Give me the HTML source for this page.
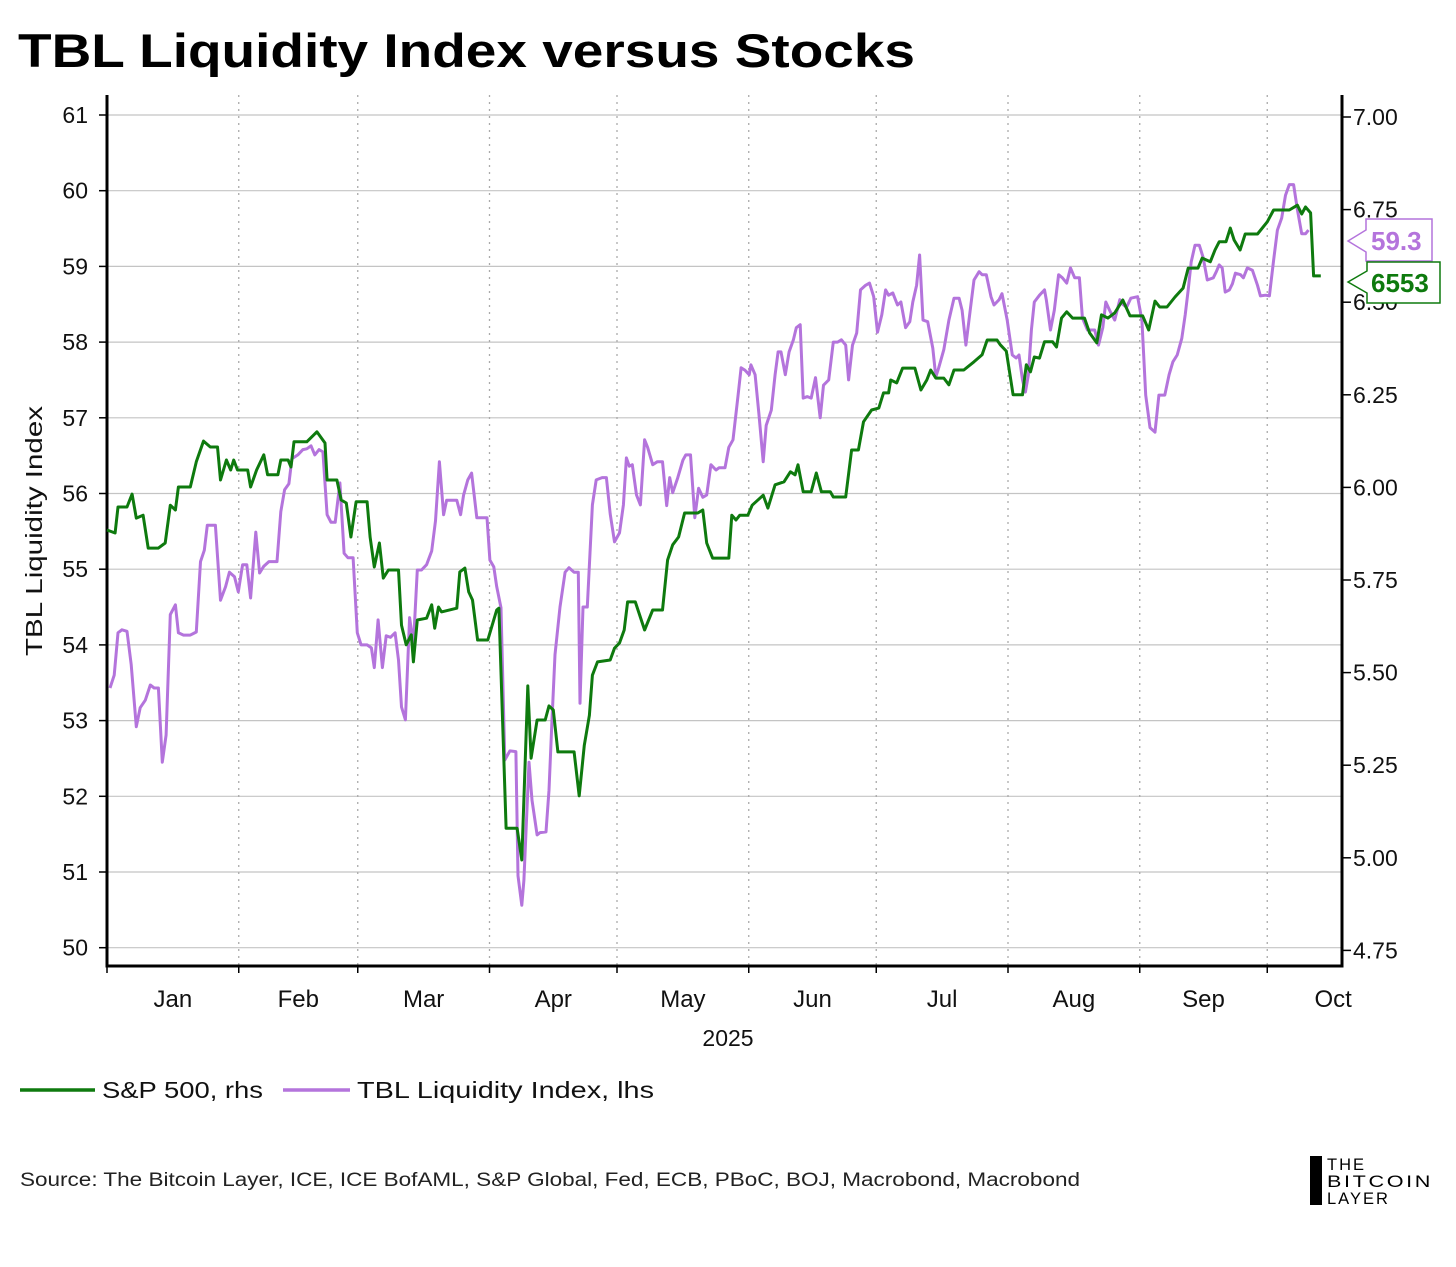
<!DOCTYPE html>
<html><head><meta charset="utf-8">
<style>
body{margin:0;background:#fff;width:1456px;height:1262px;overflow:hidden;font-family:"Liberation Sans",sans-serif;}
svg text{font-family:"Liberation Sans",sans-serif;}
</style></head>
<body>
<svg id="chart" width="1456" height="1262" xmlns="http://www.w3.org/2000/svg">
<text x="18" y="67" font-size="47" font-weight="bold" fill="#000" textLength="897" lengthAdjust="spacingAndGlyphs">TBL Liquidity Index versus Stocks</text>
<g id="grid"></g>
<g id="axes"></g>
<g id="series"></g>
<text transform="translate(42,531) rotate(-90)" text-anchor="middle" font-size="23" fill="#111" textLength="250" lengthAdjust="spacingAndGlyphs">TBL Liquidity Index</text>
<text x="728" y="1046" text-anchor="middle" font-size="23" fill="#111">2025</text>
<g>
<line x1="20" y1="1090" x2="95" y2="1090" stroke="#0e7a0e" stroke-width="3.5"/>
<text x="102" y="1098" font-size="23" fill="#111" textLength="161" lengthAdjust="spacingAndGlyphs">S&amp;P 500, rhs</text>
<line x1="283" y1="1090" x2="350" y2="1090" stroke="#b474dc" stroke-width="3.5"/>
<text x="357" y="1098" font-size="23" fill="#111" textLength="297" lengthAdjust="spacingAndGlyphs">TBL Liquidity Index, lhs</text>
</g>
<text x="20" y="1186" font-size="19" fill="#222" textLength="1060" lengthAdjust="spacingAndGlyphs">Source: The Bitcoin Layer, ICE, ICE BofAML, S&amp;P Global, Fed, ECB, PBoC, BOJ, Macrobond, Macrobond</text>
<g>
<rect x="1310" y="1156" width="12" height="49" fill="#000"/>
<text x="1327" y="1170" font-size="16.5" letter-spacing="2" fill="#000">THE</text>
<text x="1327" y="1187" font-size="16.5" letter-spacing="2" fill="#000" textLength="106" lengthAdjust="spacingAndGlyphs">BITCOIN</text>
<text x="1327" y="1204" font-size="16.5" letter-spacing="2" fill="#000">LAYER</text>
</g>
<g>
<path d="M1348,241 L1366,230 L1366,219 L1432,219 L1432,261 L1366,261 L1366,252 Z" fill="#fff" stroke="#b474dc" stroke-width="1.5"/>
<text x="1371" y="250" font-size="26" font-weight="bold" fill="#b474dc">59.3</text>
</g>
<g>
<path d="M1348,282 L1367,271 L1367,262 L1440,262 L1440,303 L1367,303 L1367,293 Z" fill="#fff" stroke="#0e7a0e" stroke-width="1.5"/>
<text x="1371" y="292" font-size="26" font-weight="bold" fill="#0e7a0e">6553</text>
</g>
</svg>
<script>
const leftTicks=[50,51,52,53,54,55,56,57,58,59,60,61];
const rightTicks=[4750,5000,5250,5500,5750,6000,6250,6500,6750,7000];
const rightTickLabels=["4.75","5.00","5.25","5.50","5.75","6.00","6.25","6.50","6.75","7.00"];
const monthStarts=[0,31,59,90,120,151,181,212,243,273];
const monthNames=["Jan","Feb","Mar","Apr","May","Jun","Jul","Aug","Sep","Oct"];
const spDays=[0,1.9,2.6,4.7,5.9,6.9,8.5,9.7,12.1,13.7,14.9,16.1,16.8,19.6,21,22.7,24.3,26,26.7,28.1,29.1,29.8,30.7,33.1,33.8,35.2,36.9,37.8,40.2,40.9,42.6,43.3,44,47,49.4,51.3,51.8,54.1,55.1,56.3,57.4,58.6,61.2,61.9,62.9,64.1,65,66.2,68.6,69.3,70.4,71.6,72.1,73,75.2,76.4,77.1,78,78.7,82.3,83,84.2,85.1,86,87.2,89.6,91.7,92.2,93.9,96.5,97.6,99,99.8,101.2,103.1,104,105,106.1,109.9,111.1,112.3,113.5,114.2,115.4,118.4,119.4,120.6,121.7,122.5,124.3,126.5,128.4,130.7,131.9,133.1,134.5,135.9,139,140.2,141.1,142.5,143.3,144.9,146.3,147,148,148.9,150.8,151.8,154.4,155.5,157.2,159.3,160.8,161.9,162.6,163.8,165.7,166.9,168.1,170.2,170.9,173.8,175.2,176.8,178,179.9,181.6,182.7,183.9,184.4,185.8,187.2,190.1,191.5,192.9,193.8,195,196.9,198.1,199.3,201.6,204,205.9,207.1,209.4,210.2,211.6,213.2,215.4,216.3,217.3,218.2,219.4,220.6,222.5,223.4,224.6,225.8,227.2,230,231.2,232.9,234,235.5,237.1,239,240.7,243.7,245.1,246.6,247.7,249.4,251.3,253.2,254.4,256.7,257.7,259.6,260.7,261.7,263.3,264.3,265.2,266.6,267.8,270.7,273,274.5,278.2,280.1,281.1,282,283.2,283.9,285.6];
const spValues=[5885,5877,5947,5947,5982,5917,5925,5836,5836,5850,5952,5939,6001,6001,6069,6125,6109,6109,6020,6074,6047,6074,6047,6047,6001,6047,6088,6034,6034,6074,6074,6055,6123,6123,6150,6120,6020,6020,5966,5958,5866,5961,5961,5866,5785,5850,5755,5777,5777,5628,5575,5602,5529,5642,5647,5683,5620,5677,5664,5674,5772,5782,5718,5696,5588,5588,5669,5674,5080,5080,4994,5464,5269,5372,5372,5410,5399,5286,5286,5167,5304,5385,5493,5529,5534,5566,5580,5615,5691,5691,5615,5669,5669,5804,5845,5866,5931,5931,5939,5850,5809,5809,5809,5809,5925,5912,5925,5925,5952,5979,5944,6007,6015,6042,6034,6061,5988,5988,6039,5988,5988,5974,5974,6101,6101,6177,6209,6214,6255,6255,6290,6282,6322,6322,6263,6290,6317,6295,6295,6277,6317,6317,6339,6358,6398,6398,6385,6368,6250,6250,6331,6312,6352,6349,6393,6393,6379,6457,6474,6457,6457,6417,6390,6466,6457,6471,6506,6463,6463,6425,6503,6487,6487,6514,6538,6592,6592,6619,6609,6641,6663,6663,6700,6668,6641,6684,6684,6717,6749,6749,6762,6738,6757,6741,6571,6571];
const liqDays=[0.7,1.7,2.6,3.5,4.7,5.7,6.9,7.8,9,10.2,11.1,12.1,13,13.9,14.9,16.1,16.8,18,19.6,21,22,22.9,23.6,25.5,26.7,27.9,28.8,30,30.9,31.9,32.9,33.8,35,35.9,36.9,38.1,40,40.9,41.8,42.8,43.5,44.9,46.1,47,48,48.9,49.9,50.8,51.8,52.7,53.7,54.8,55.8,56.7,57.9,58.9,59.8,61.2,62.2,62.9,63.8,64.8,65.7,66.7,67.8,68.6,69.3,70.2,71.2,72.1,73,74,75.2,76.4,77.3,78.2,79.2,79.9,81.1,82.3,83.2,83.9,84.9,85.8,87,88.2,89.4,90.1,91,91.7,92.7,93.6,94.8,96.2,96.7,97.6,98.1,99.3,100,101.2,101.9,103.3,104,104.7,105.4,106.6,107.8,108.7,109.9,110.9,111.3,112,113,114.2,115.1,116.5,117.5,118.4,119.4,120.6,121.5,122.2,122.9,123.6,124.6,125.5,126.5,127.2,128.4,129.5,130.7,131.7,132.4,133.1,134.3,135.5,136.2,137.3,138.3,139.2,140.2,141.1,142.1,143.3,144,145.4,146.3,147.3,148.5,149.2,150.1,151.1,151.5,152.5,153.4,154.4,155.1,156.3,157.2,157.9,158.6,159.6,160.5,161.5,162.2,163.1,163.8,164.8,165.7,166.7,167.8,168.6,169.8,170.9,171.9,172.8,173.8,174.5,175.4,176.4,177.3,178.5,179.4,180.4,181.3,182.3,183.2,183.9,184.9,186,186.8,187.9,188.9,189.6,190.5,191.2,192,193.1,194.3,195,195.7,196.9,198.1,199.3,200.5,201.2,202.1,203.1,204,205.2,205.9,206.9,208,208.7,209.9,210.6,211.8,213,213.9,214.6,215.4,216.1,216.8,217.5,218.2,219.4,220.6,221,222,222.9,223.9,224.8,225.8,226.7,227.7,228.8,229.5,230.7,231.4,232.4,233.3,234.3,235,235.9,237.1,238.3,239,239.9,240.9,242.5,243.5,244.4,245.4,246.6,247.5,248.9,249.9,250.8,251.8,252.9,253.7,254.4,255.1,256,257,257.9,258.9,260.3,261,261.7,262.4,263.1,264.1,264.8,265.5,266.7,267.4,268.3,269.5,270.7,271.4,272.6,273.5,274.5,275.4,276.4,277.3,278.2,279.2,280.1,281.1,282,282.7];
const liqValues=[53.43,53.60,54.16,54.20,54.18,53.74,52.92,53.17,53.27,53.47,53.43,53.43,52.45,52.81,54.40,54.53,54.16,54.13,54.13,54.17,55.10,55.25,55.58,55.58,54.59,54.77,54.96,54.90,54.70,55.06,55.06,54.62,55.49,54.95,55.04,55.10,55.10,55.76,56.05,56.13,56.46,56.51,56.58,56.59,56.63,56.51,56.58,56.55,55.72,55.62,55.62,56.14,55.21,55.15,55.15,54.16,54.00,54.00,53.96,53.70,54.33,53.70,54.12,54.10,54.16,53.80,53.18,53.01,54.36,54.00,54.99,54.99,55.06,55.24,55.64,56.42,55.72,55.91,55.91,55.91,55.72,55.98,56.18,56.27,55.68,55.68,55.68,55.12,55.03,54.77,54.49,52.48,52.60,52.59,50.95,50.56,50.89,52.45,51.95,51.49,51.52,51.53,52.08,53.01,53.87,54.50,54.96,55.02,54.96,54.96,53.23,54.50,54.50,55.85,56.18,56.21,56.21,55.73,55.36,55.48,55.85,56.47,56.36,56.38,55.98,55.85,56.71,56.61,56.38,56.42,56.42,55.84,56.21,56.01,56.21,56.44,56.51,56.51,55.68,56.07,55.95,55.98,56.38,56.31,56.34,56.34,56.61,56.71,57.30,57.66,57.63,57.57,57.70,57.57,57.04,56.42,56.90,57.10,57.57,57.87,57.87,57.57,57.87,58.03,58.19,58.23,57.26,57.28,57.26,57.53,57.00,57.43,57.50,58.00,58.00,58.03,57.96,57.50,57.96,58.12,58.69,58.75,58.78,58.60,58.13,58.36,58.69,58.62,58.65,58.49,58.53,58.19,58.27,58.53,58.75,59.15,58.29,58.27,57.92,57.54,57.66,57.90,58.29,58.58,58.58,58.42,57.96,58.42,58.82,58.93,58.89,58.89,58.60,58.49,58.56,58.64,58.29,57.83,57.79,57.83,57.50,57.34,57.57,58.16,58.53,58.62,58.69,58.56,58.16,58.42,58.89,58.85,58.78,58.98,58.85,58.85,58.32,58.16,58.16,58.16,57.96,58.19,58.53,58.42,58.29,58.56,58.50,58.46,58.58,58.60,58.29,57.30,56.87,56.81,57.30,57.30,57.57,57.74,57.83,58.05,58.36,58.69,59.06,59.28,59.28,59.12,58.82,58.85,58.93,59.02,58.98,58.66,58.69,58.77,58.91,58.89,58.85,58.98,58.95,58.75,58.61,58.62,58.61,59.08,59.48,59.64,59.94,60.08,60.08,59.75,59.43,59.43,59.48];

const NS="http://www.w3.org/2000/svg";
const X0=107,X1=1342,YB=966;
function xScale(d){return X0+d*4.25;}
function yLeft(v){return 115+(61-v)*75.7;}
function yRight(v){return 117+(7000-v)/250*92.6;}
function mk(tag,attrs,parent){const e=document.createElementNS(NS,tag);for(const k in attrs)e.setAttribute(k,attrs[k]);parent.appendChild(e);return e;}
const grid=document.getElementById('grid'),axes=document.getElementById('axes'),series=document.getElementById('series');

leftTicks.forEach(v=>{
  const y=yLeft(v);
  const g=mk('line',{x1:X0,x2:X1,y1:y,y2:y,stroke:'#c4c4c4','stroke-width':1.2},grid);
  
  
  const t=mk('line',{x1:X0-8,x2:X0,y1:y,y2:y,stroke:'#000','stroke-width':1.5},axes);
  
  
  const l=mk('text',{x:88,y:y+8,'text-anchor':'end','font-size':23,fill:'#111'},axes);
  l.textContent=v;
  
  
});
rightTicks.forEach((v,i)=>{
  const y=yRight(v);
  const t=mk('line',{x1:X1,x2:X1+9,y1:y,y2:y,stroke:'#000','stroke-width':1.5},axes);
  
  
  const l=mk('text',{x:1353,y:y+8,'font-size':23,fill:'#111'},axes);
  l.textContent=rightTickLabels[i];
  
  
});
monthStarts.forEach((d,i)=>{
  const x=xScale(d);
  if(i>0){
    const v=mk('line',{x1:x,x2:x,y1:95,y2:YB,stroke:'#aaa','stroke-width':1.3,'stroke-dasharray':'2,5'},grid);
    
    
  }
  const t=mk('line',{x1:x,x2:x,y1:YB,y2:YB+7,stroke:'#000','stroke-width':1.5},axes);
  
  
  const mid=(i<monthStarts.length-1)?(d+monthStarts[i+1])/2:d+15.5;
  const l=mk('text',{x:xScale(mid),y:1007,'text-anchor':'middle','font-size':24,fill:'#111'},axes);
  l.textContent=monthNames[i];
  
  
});
const la=mk('line',{x1:X0,x2:X0,y1:95,y2:YB+1.5,stroke:'#000','stroke-width':3},axes);


const ra=mk('line',{x1:X1,x2:X1,y1:95,y2:YB+1.5,stroke:'#000','stroke-width':3},axes);


const ba=mk('line',{x1:X0,x2:X1,y1:YB,y2:YB,stroke:'#000','stroke-width':3},axes);



const lp=mk('polyline',{points:liqDays.map((d,i)=>xScale(d).toFixed(1)+','+yLeft(liqValues[i]).toFixed(1)).join(' '),fill:'none',stroke:'#b474dc','stroke-width':3,'stroke-linejoin':'round'},series);


const sp=mk('polyline',{points:spDays.map((d,i)=>xScale(d).toFixed(1)+','+yRight(spValues[i]).toFixed(1)).join(' '),fill:'none',stroke:'#0e7a0e','stroke-width':3,'stroke-linejoin':'round'},series);


</script>
</body></html>
